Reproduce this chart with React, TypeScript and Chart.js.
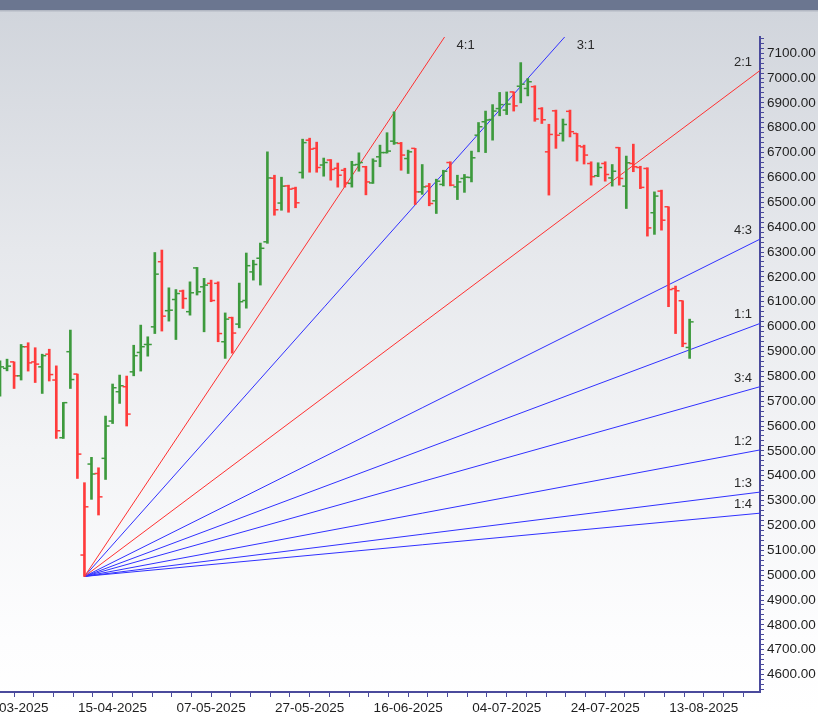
import { useEffect, useRef } from 'react';
import { Chart, registerables } from 'chart.js';

Chart.register(...registerables);

// ---- Data (trading-day index, first bar is index -2) ----
const firstIndex = -2;

const opens = [
  5785, 5832, 5858, 5802, 5919, 5858, 5838, 5889, 5785, 5553,
  5899, 5809, 5081, 5447, 5409, 5470, 5620, 5738, 5758, 5818,
  5896, 5928, 5999, 6261, 6064, 6109, 6143, 6060, 6236, 6160,
  6174, 6174, 5939, 6036, 6010, 6105, 6220, 6275, 6341, 6597,
  6497, 6566, 6556, 6620, 6750, 6717, 6650, 6670, 6637, 6629,
  6576, 6652, 6643, 6578, 6683, 6700, 6746, 6737, 6676, 6717,
  6542, 6565, 6506, 6572, 6660, 6562, 6596, 6600, 6770, 6824,
  6833, 6877, 6871, 6944, 6967, 6958, 6965, 6877, 6703, 6868,
  6777, 6866, 6777, 6723, 6656, 6607, 6656, 6598, 6720, 6565,
  6656, 6640, 6636, 6458, 6545, 6482, 6153, 6104, 5916,
];
const highs = [
  5862, 5869, 5858, 5928, 5935, 5915, 5889, 5909, 5842, 5695,
  5986, 5809, 5372, 5474, 5432, 5640, 5769, 5805, 5801, 5925,
  6006, 5959, 6298, 6308, 6156, 6149, 6147, 6180, 6238, 6194,
  6187, 6180, 6055, 6038, 6175, 6296, 6267, 6336, 6703, 6609,
  6601, 6569, 6561, 6754, 6758, 6742, 6678, 6672, 6658, 6637,
  6665, 6699, 6645, 6675, 6730, 6780, 6864, 6741, 6710, 6717,
  6652, 6576, 6593, 6629, 6663, 6609, 6612, 6706, 6821, 6867,
  6893, 6942, 6944, 6944, 7062, 6998, 6969, 6881, 6814, 6871,
  6835, 6871, 6777, 6730, 6663, 6659, 6663, 6652, 6721, 6686,
  6734, 6645, 6639, 6542, 6549, 6482, 6163, 6104, 6030,
];
const lows = [
  5720, 5822, 5751, 5785, 5821, 5775, 5731, 5781, 5550, 5550,
  5751, 5389, 4995, 5305, 5242, 5385, 5610, 5691, 5600, 5802,
  5821, 5881, 5972, 5982, 6022, 5948, 6073, 6046, 6127, 5979,
  6100, 5939, 5872, 5893, 5995, 6074, 6187, 6167, 6335, 6448,
  6468, 6460, 6478, 6597, 6621, 6621, 6605, 6589, 6561, 6561,
  6561, 6625, 6530, 6576, 6643, 6698, 6733, 6629, 6616, 6491,
  6532, 6486, 6455, 6566, 6566, 6511, 6540, 6582, 6703, 6700,
  6750, 6848, 6853, 6867, 6900, 6928, 6826, 6817, 6529, 6717,
  6746, 6763, 6666, 6654, 6569, 6603, 6585, 6565, 6569, 6475,
  6623, 6555, 6364, 6371, 6388, 6080, 5972, 5919, 5872,
];
const closes = [
  5838, 5841, 5802, 5919, 5854, 5849, 5883, 5807, 5581, 5694,
  5787, 5487, 5275, 5407, 5315, 5600, 5754, 5762, 5648, 5883,
  5919, 5928, 6211, 6042, 6066, 6133, 6113, 6136, 6140, 6167,
  6105, 5972, 6030, 5974, 6100, 6245, 6250, 6315, 6598, 6470,
  6565, 6553, 6498, 6740, 6714, 6640, 6660, 6632, 6609, 6578,
  6650, 6660, 6582, 6666, 6700, 6706, 6739, 6690, 6703, 6542,
  6562, 6495, 6585, 6625, 6569, 6582, 6601, 6679, 6804, 6831,
  6867, 6893, 6895, 6888, 6975, 6985, 6835, 6832, 6773, 6770,
  6813, 6784, 6727, 6690, 6603, 6640, 6612, 6625, 6596, 6659,
  6643, 6560, 6397, 6525, 6428, 6149, 6144, 5932, 6019,
];

const tickEvery = 14;
const tickDates = [
  '21-03-2025', '15-04-2025', '07-05-2025', '27-05-2025',
  '16-06-2025', '04-07-2025', '24-07-2025', '13-08-2025',
];

const fanOriginIndex = 10;
const fanOriginPrice = 4995;
const fanUnit = 10.6; // price per bar for 1:1
const fanRatios = [4, 3, 2, 4 / 3, 1, 3 / 4, 1 / 2, 1 / 3, 1 / 4];
const fanLabels = ['4:1', '3:1', '2:1', '4:3', '1:1', '3:4', '1:2', '1:3', '1:4'];
const fanColors = ['#ff3030', '#3030ff', '#ff3030', '#3030ff', '#3030ff', '#3030ff', '#3030ff', '#3030ff', '#3030ff'];

const xMin = -2;
const xMax = 106;
const yMin = 4530;
const yMax = 7165;

const GREEN = '#3d9a3d';
const RED = '#ff3b3b';
const AXIS = '#4a4a9c';
const FONT = '"Liberation Sans", Arial, sans-serif';

const fanLabelPlugin = {
  id: 'fanLabels',
  afterDatasetsDraw(chart: any) {
    const { ctx, chartArea, scales } = chart;
    const x = scales.x;
    const y = scales.y;
    ctx.save();
    ctx.font = `13px ${FONT}`;
    ctx.fillStyle = '#2a2a2a';
    ctx.textBaseline = 'alphabetic';
    fanRatios.forEach((r, i) => {
      const endVal = fanOriginPrice + r * fanUnit * (xMax - fanOriginIndex);
      if (endVal <= yMax) {
        ctx.textAlign = 'right';
        ctx.fillText(fanLabels[i], chartArea.right - 8, y.getPixelForValue(endVal) - 5);
      } else {
        const xi = fanOriginIndex + (yMax - fanOriginPrice) / (r * fanUnit);
        ctx.textAlign = 'left';
        ctx.fillText(fanLabels[i], x.getPixelForValue(xi) + 12, chartArea.top + 12);
      }
    });
    ctx.restore();
  },
};

export default function App() {
  const ref = useRef<HTMLCanvasElement | null>(null);

  useEffect(() => {
    if (!ref.current) return;
    const idx = opens.map((_, i) => firstIndex + i);
    const colors = closes.map((c, i) =>
      (i === 0 ? c >= opens[0] : c >= closes[i - 1]) ? GREEN : RED
    );
    const barData = idx.map((x, i) => ({ x, y: [lows[i], highs[i]] }));
    const openPts = idx.map((x, i) => ({ x, y: opens[i] }));
    const closePts = idx.map((x, i) => ({ x, y: closes[i] }));

    const fanSets = fanRatios.map((r, i) => ({
      type: 'line' as const,
      data: [
        { x: fanOriginIndex, y: fanOriginPrice },
        { x: xMax, y: fanOriginPrice + r * fanUnit * (xMax - fanOriginIndex) },
      ],
      borderColor: fanColors[i],
      borderWidth: 1,
      pointRadius: 0,
      fill: false,
      order: 5,
    }));

    const chart = new Chart(ref.current, {
      type: 'bar',
      data: {
        datasets: [
          ...fanSets,
          {
            type: 'bar',
            data: barData as any,
            backgroundColor: colors,
            borderWidth: 0,
            barThickness: 2,
            order: 3,
          },
          {
            type: 'line',
            data: openPts,
            showLine: false,
            pointStyle: 'dash',
            pointRotation: 180,
            pointRadius: 4,
            pointBorderColor: colors,
            pointBackgroundColor: colors,
            pointBorderWidth: 1.5,
            order: 1,
          },
          {
            type: 'line',
            data: closePts,
            showLine: false,
            pointStyle: 'dash',
            pointRotation: 0,
            pointRadius: 4,
            pointBorderColor: colors,
            pointBackgroundColor: colors,
            pointBorderWidth: 1.5,
            order: 1,
          },
        ] as any,
      },
      options: {
        responsive: false,
        animation: false,
        devicePixelRatio: 1,
        events: [],
        layout: { padding: { left: 40, top: 37, right: 0, bottom: 0 } },
        plugins: { legend: { display: false }, tooltip: { enabled: false } },
        scales: {
          x: {
            type: 'linear',
            min: xMin,
            max: xMax,
            offset: false,
            grid: { drawOnChartArea: false, offset: false, tickLength: 5, color: AXIS, tickWidth: 1 },
            border: { color: AXIS, width: 2 },
            ticks: {
              stepSize: 2.8,
              includeBounds: false,
              autoSkip: false,
              maxRotation: 0,
              minRotation: 0,
              padding: 3,
              color: '#1e1e1e',
              font: { family: FONT, size: 13.5 },
              callback: (v: any) => {
                const k = Number(v) / tickEvery;
                if (Math.abs(k - Math.round(k)) < 1e-6) {
                  return tickDates[Math.round(k)] ?? '';
                }
                return '';
              },
            },
            afterFit: (s: any) => {
              s.height = 23;
            },
          },
          y: {
            type: 'linear',
            position: 'right',
            min: yMin,
            max: yMax,
            grid: { drawOnChartArea: false, tickLength: 4, color: AXIS, tickWidth: 1 },
            border: { color: AXIS, width: 2 },
            ticks: {
              stepSize: 20,
              includeBounds: false,
              autoSkip: false,
              padding: 3,
              color: '#1e1e1e',
              font: { family: FONT, size: 13.5 },
              callback: (v: any) => {
                const n = Number(v);
                return Math.abs(n % 100) < 1e-6 ? n.toFixed(2) : '';
              },
            },
            afterFit: (s: any) => {
              s.width = 58;
            },
          },
        },
      } as any,
      plugins: [fanLabelPlugin],
    });
    return () => chart.destroy();
  }, []);

  return (
    <div
      style={{
        position: 'fixed',
        left: 0,
        top: 0,
        width: 818,
        height: 715,
        overflow: 'hidden',
        background:
          'linear-gradient(to bottom, #6b7690 0px, #6b7690 10px, #b3b8c3 10px, #b3b8c3 11px, #d1d5dc 12px, #e6e8ec 250px, #f3f4f6 450px, #fdfdfe 640px, #ffffff 715px)',
      }}
    >
      <canvas
        ref={ref}
        width={858}
        height={715}
        style={{ position: 'absolute', left: -40, top: 0, width: 858, height: 715 }}
      />
    </div>
  );
}
